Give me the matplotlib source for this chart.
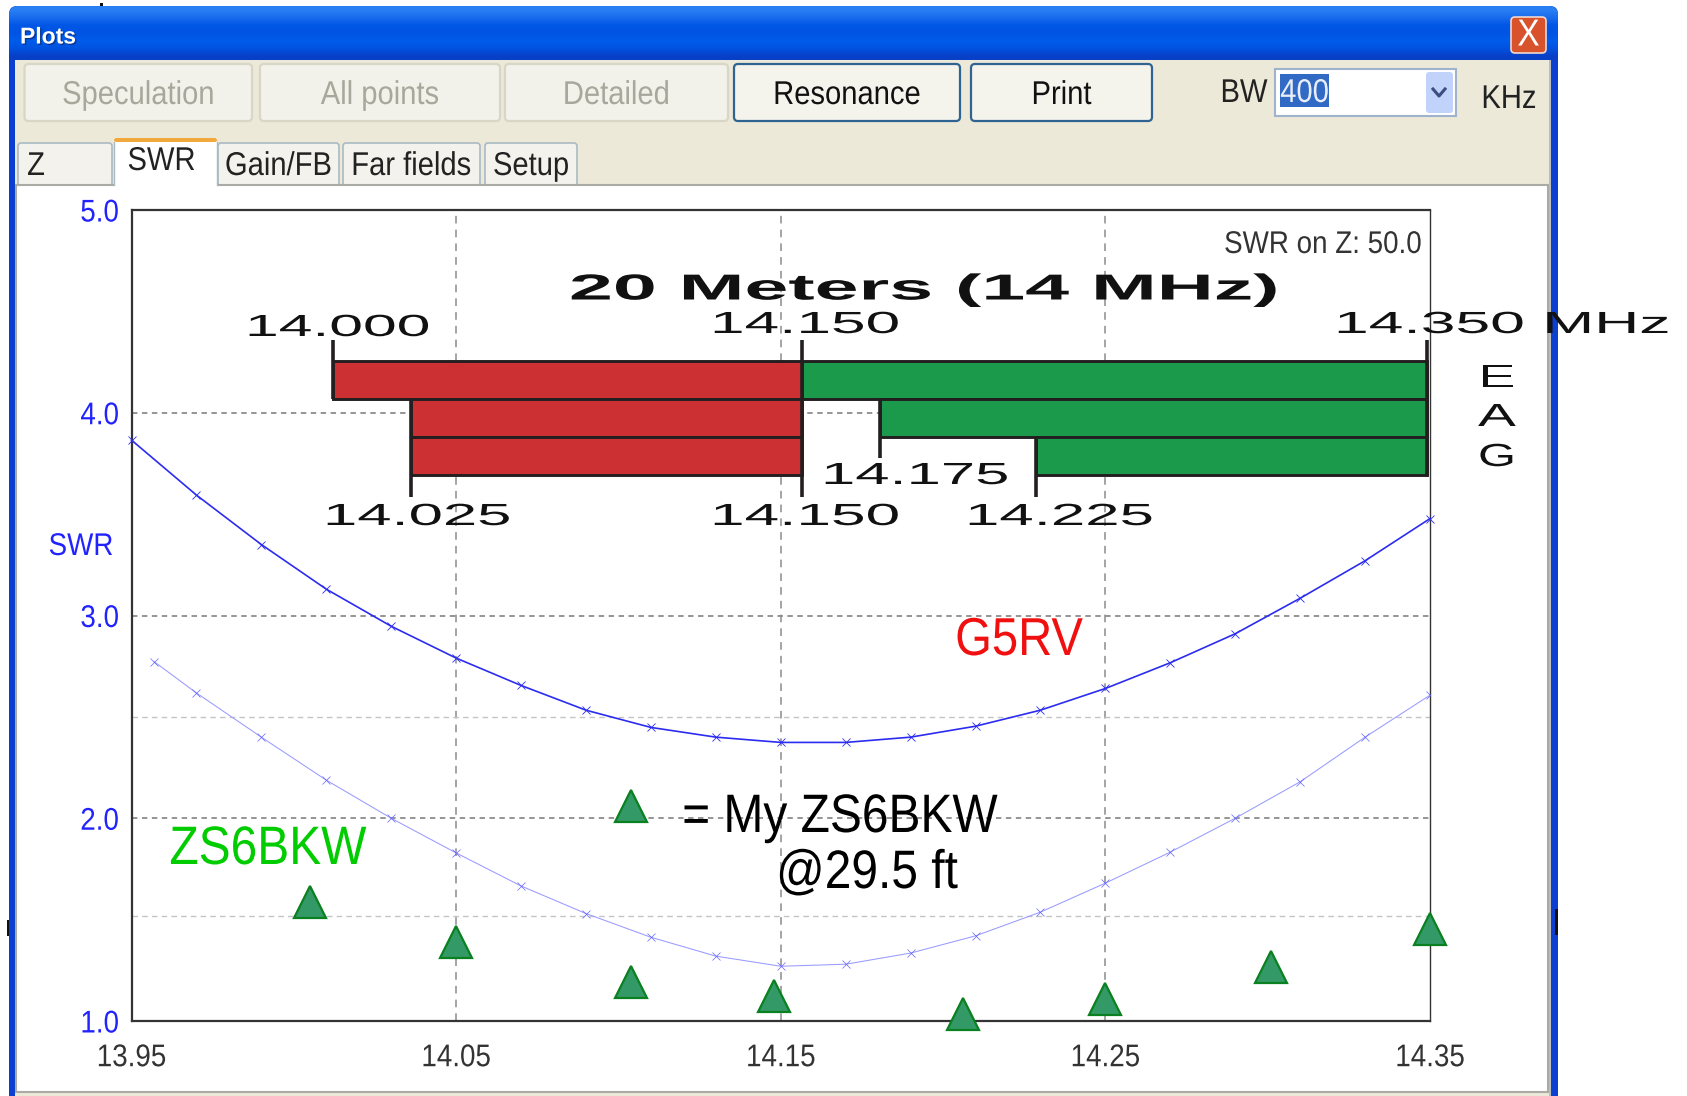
"""SWR plot window: G5RV vs ZS6BKW on the 20 m band, with the band plan on top."""
import matplotlib
matplotlib.use("Agg")
import matplotlib.patheffects as pe
import matplotlib.pyplot as plt
import numpy as np
from matplotlib.patches import FancyBboxPatch, Rectangle
from matplotlib.transforms import Affine2D

W, H = 1687, 1096

# sweep samples, MHz / SWR
freq_g5rv = [13.95, 13.97, 13.99, 14.01, 14.03, 14.05, 14.07, 14.09, 14.11, 14.13, 14.15,
             14.17, 14.19, 14.21, 14.23, 14.25, 14.27, 14.29, 14.31, 14.33, 14.35]
swr_g5rv = [3.865, 3.594, 3.35, 3.13, 2.947, 2.79, 2.655, 2.533, 2.448, 2.40, 2.374,
            2.374, 2.40, 2.454, 2.533, 2.64, 2.767, 2.91, 3.085, 3.27, 3.478]

freq_zs6 = [13.957, 13.97, 13.99, 14.01, 14.03, 14.05, 14.07, 14.09, 14.11, 14.13, 14.15,
            14.17, 14.19, 14.21, 14.23, 14.25, 14.27, 14.29, 14.31, 14.33, 14.35]
swr_zs6 = [2.772, 2.618, 2.40, 2.188, 2.0, 1.829, 1.666, 1.53, 1.413, 1.32, 1.27,
           1.28, 1.335, 1.42, 1.537, 1.68, 1.833, 2.0, 2.18, 2.40, 2.607]

# measured points on my antenna
freq_meas = [14.005, 14.05, 14.104, 14.148, 14.206, 14.25, 14.301, 14.35]
swr_meas = [1.587, 1.39, 1.192, 1.123, 1.034, 1.108, 1.266, 1.454]
key_freq, key_swr = 14.104, 2.06

x_ticks = [13.95, 14.05, 14.15, 14.25, 14.35]
y_ticks = [1.0, 2.0, 3.0, 4.0, 5.0]
y_minor = [1.52, 2.5]

# band plan: licence class, phone start, band start etc
band_rows = ["E", "A", "G"]
cw_start = [14.000, 14.025, 14.025]
cw_end = [14.150, 14.150, 14.150]
phone_start = [14.150, 14.175, 14.225]
phone_end = [14.350, 14.350, 14.350]

tabs = ["Z", "SWR", "Gain/FB", "Far fields", "Setup"]
buttons = ["Speculation", "All points", "Detailed", "Resonance", "Print"]


class StretchX(pe.AbstractPathEffect):
    """Scale a text in x about a display x, the screenshot lettering is not square."""

    def __init__(self, sx, x0):
        super().__init__()
        self.sx, self.x0 = sx, x0

    def draw_path(self, renderer, gc, tpath, affine, rgbFace=None):
        st = Affine2D().translate(-self.x0, 0).scale(self.sx, 1).translate(self.x0, 0)
        renderer.draw_path(gc, tpath, affine + st, rgbFace)


fig = plt.figure(figsize=(W / 100, H / 100), dpi=100, facecolor="white")
plt.rcParams["font.family"] = ["Liberation Sans", "DejaVu Sans"]


def px_axes(zorder):
    ax = fig.add_axes([0, 0, 1, 1], zorder=zorder)
    ax.set_xlim(0, W)
    ax.set_ylim(H, 0)
    ax.axis("off")
    return ax


def box(ax, x0, y0, x1, y1, fc, ec="none", lw=1.0, round_=0, z=1):
    if round_:
        p = FancyBboxPatch((x0, y0), x1 - x0, y1 - y0, boxstyle=f"round,pad=0,rounding_size={round_}",
                           fc=fc, ec=ec, lw=lw, zorder=z)
    else:
        p = Rectangle((x0, y0), x1 - x0, y1 - y0, fc=fc, ec=ec, lw=lw, zorder=z)
    ax.add_patch(p)
    return p


ui = px_axes(0)
top = px_axes(5)

# ── window frame ─────────────────────────────────────────────────────────────
box(ui, 9, 6, 1558, H + 20, "#0A3FD0", round_=8, z=0)
box(ui, 15, 60, 1551, H + 5, "#ECE9D8", z=1)
box(ui, 1549, 60, 1551, H + 5, "#B8BCC0", z=1)
grad = np.array([[0.16, 0.50, 0.95], [0.10, 0.42, 0.93], [0.0, 0.34, 0.90], [0.0, 0.33, 0.89],
                 [0.0, 0.36, 0.92], [0.0, 0.32, 0.88], [0.03, 0.25, 0.78]])[:, None, :]
bar = ui.imshow(grad, extent=(9, 1558, 60, 6), aspect="auto", interpolation="bilinear", zorder=2)
bar.set_clip_path(FancyBboxPatch((9, 6), 1549, 70, boxstyle="round,pad=0,rounding_size=9",
                                 transform=ui.transData))
ui.set_xlim(0, W)
ui.set_ylim(H, 0)
plots_title = ui.text(20, 37, "Plots", color="white", fontsize=16.5, fontweight="bold", va="center", zorder=4,
                      path_effects=[pe.withSimplePatchShadow(offset=(1, -1), shadow_rgbFace="#103080", alpha=0.8)])

box(ui, 1511, 17, 1546, 53, "#D8532C", ec="#F0D8D0", lw=1.2, round_=4, z=3)
ui.text(1528.5, 33, "X", color="white", fontsize=24, ha="center", va="center", zorder=4)

# toolbar
btn_x = [(24.5, 252), (260, 500), (505, 728), (734, 960), (971, 1152)]
for name, (x0, x1) in zip(buttons, btn_x):
    live = name in ("Resonance", "Print")
    box(ui, x0, 64, x1, 121, "#F4F3EC" if live else "#F3F2EA", ec="#2F6391" if live else "#D8D6C6",
        lw=1.6 if live else 1.6, round_=4, z=3)
    ui.text((x0 + x1) / 2, 93, name, color="#111111" if live else "#A9A79B", fontsize=21,
            ha="center", va="center", zorder=4)

ui.text(1244, 91, "BW", color="#222222", fontsize=21, ha="center", va="center", zorder=4)
box(ui, 1275, 69, 1456, 116, "white", ec="#9FB4CC", lw=1.5, z=3)
box(ui, 1280, 74, 1329, 107, "#316AC5", z=4)
ui.text(1304.5, 91, "400", color="#E8EEFA", fontsize=21, ha="center", va="center", zorder=5)
box(ui, 1426, 72, 1453, 113, "#C1D3FB", round_=3, z=4)
ui.plot([1433, 1439, 1445], [89, 96, 89], color="#3A4F80", lw=2.2, zorder=5)
ui.text(1509, 97, "KHz", color="#222222", fontsize=21, ha="center", va="center", zorder=4)

# tabs and the white page
box(ui, 16, 185, 1548, H - 4, "white", ec="#A9ABA4", lw=1.5, z=3)
tab_x = [(18, 112), (114, 217), (218, 339), (343, 480), (485, 577)]
for name, (x0, x1) in zip(tabs, tab_x):
    if name == "SWR":
        box(ui, x0, 138, x1, 187, "white", z=5)
        box(ui, x0, 138, x1, 142, "#F2A93B", round_=2, z=6)
        ui.plot([x0, x0], [142, 185], color="#A9BAC4", lw=1, zorder=6)
        ui.plot([x1, x1], [142, 185], color="#A9BAC4", lw=1, zorder=6)
        ui.text((x0 + x1) / 2 - 4, 159, name, color="#222222", fontsize=21, ha="center", va="center", zorder=7)
    else:
        box(ui, x0, 143, x1, 186, "#F3F2EC", ec="#A9BAC4", lw=1.2, round_=3, z=2)
        tx = 36 if name == "Z" else (x0 + x1) / 2
        ui.text(tx, 164, name, color="#222222", fontsize=21, ha="center", va="center", zorder=4)

# stray dark bits on the frame edge
for x0, y0, x1, y1 in [(7, 920, 9, 936), (1555, 909, 1558, 935), (100, 3, 103, 6)]:
    box(ui, x0, y0, x1, y1, "#111111", z=1)

# ── SWR chart ────────────────────────────────────────────────────────────────
L, R, T, B = 131.5, 1430, 210, 1021
ax = fig.add_axes([L / W, 1 - B / H, (R - L) / W, (B - T) / H], zorder=1)
ax.patch.set_alpha(0)
ax.set_xlim(x_ticks[0], x_ticks[-1])
ax.set_ylim(y_ticks[0], y_ticks[-1])
ax.set_xticks(x_ticks)
ax.set_yticks(y_ticks)
ax.set_xticklabels([f"{v:.2f}" for v in x_ticks], fontsize=20, color="#333333")
ax.set_yticklabels([f"{v:.1f}" for v in y_ticks], fontsize=20, color="#2222FF")
ax.tick_params(length=0)
ax.tick_params(axis="x", pad=16)
ax.tick_params(axis="y", pad=9)
for s in ax.spines.values():
    s.set_color("#333333")
    s.set_linewidth(1.6)
ax.spines["right"].set_linewidth(1.0)

for v in x_ticks[1:-1]:
    ax.axvline(v, color="#8C8C8C", lw=1.1, ls=(0, (5, 4)), zorder=1)
for v in y_ticks[1:-1]:
    ax.axhline(v, color="#8C8C8C", lw=1.3, ls=(0, (3, 2.5)), zorder=1)
for v in y_minor:
    ax.axhline(v, color="#C4C4C4", lw=1.0, ls=(0, (4, 3)), zorder=1)

ax.plot(freq_zs6, swr_zs6, color="#9A9AFF", lw=0.75, marker="x", ms=5.5, mew=0.5, mec="#6666FF", zorder=3)
ax.plot(freq_g5rv, swr_g5rv, color="#2C2CF0", lw=1.2, marker="x", ms=6, mew=0.6, clip_on=False, zorder=3)
tri = dict(marker="^", ms=23, mfc="#339966", mec="#0B8020", mew=1.6, ls="none", clip_on=False, zorder=6)
ax.plot(freq_meas, swr_meas, **tri)
ax.plot([key_freq], [key_swr], **tri)

# ── band plan, on its own frequency scale ────────────────────────────────────
PL, PR, PT, PB = 333, 1427, 361, 475
bp = fig.add_axes([PL / W, 1 - PB / H, (PR - PL) / W, (PB - PT) / H], zorder=3)
bp.patch.set_alpha(0)
bp.axis("off")
bp.set_xlim(cw_start[0], phone_end[0])
bp.set_ylim(len(band_rows), 0)
rows = np.arange(len(band_rows))
edge = dict(height=1, align="edge", edgecolor="#231F20", linewidth=2.1, clip_on=False)
bp.barh(rows, np.subtract(cw_end, cw_start), left=cw_start, color="#CC3033", **edge)
bp.barh(rows, np.subtract(phone_end, phone_start), left=phone_start, color="#1A9A4A", **edge)
# tick stubs run out of the bars to their labels
for f, y0, y1 in [(cw_start[0], -0.55, 1), (cw_end[0], -0.55, 3.58), (cw_start[1], 1, 3.58),
                  (phone_start[1], 1, 2.55), (phone_start[2], 2, 3.58), (phone_end[0], -0.55, 3)]:
    bp.plot([f, f], [y0, y1], color="#231F20", lw=2.6, clip_on=False, solid_capstyle="butt")

fig.canvas.draw()
rend = fig.canvas.get_renderer()

TALL = 1.13
plain = [t for t in ui.texts + top.texts if t is not plots_title]
for t in plain:
    t.set_y(t.get_position()[1] + 2.5)


def wide_text(xc, y, s, width, size, **kw):
    t = top.text(xc, y, s, fontsize=size, ha="center", va="center", color="#111111", zorder=6,
                 family=["Liberation Sans"], **kw)
    ext = t.get_window_extent(rend)
    t.set_path_effects([StretchX(width / ext.width, ext.x0 + ext.width / 2)])
    return t


wide_text(924, 290, "20 Meters (14 MHz)", 710, 26, fontweight="bold")
wide_text(338, 328, "14.000", 186, 22)
wide_text(805, 325, "14.150", 190, 22)
wide_text(1502, 325, "14.350 MHz", 336, 22)
wide_text(417, 517, "14.025", 188, 22)
wide_text(805, 517, "14.150", 190, 22)
wide_text(915, 476, "14.175", 188, 22)
wide_text(1059, 517, "14.225", 188, 22)
for name, y in zip(band_rows, [379, 418, 458]):
    wide_text(1497, y, name, 38, 23)

labels = [
    top.text(1422, 245, "SWR on Z: 50.0", fontsize=20, color="#333333", ha="right", va="center"),
    top.text(81, 547, "SWR", fontsize=20, color="#2222FF", ha="center", va="center"),
    top.text(1019, 641, "G5RV", fontsize=34, color="#F01010", ha="center", va="center"),
    top.text(268, 850, "ZS6BKW", fontsize=34.5, color="#00CC00", ha="center", va="center"),
    top.text(840, 818, "= My ZS6BKW", fontsize=34.5, color="black", ha="center", va="center"),
    top.text(867, 874, "@29.5 ft", fontsize=34.5, color="black", ha="center", va="center"),
]

# screenshot was resized: same widths, taller letters
for t in plain + labels + ax.get_xticklabels() + ax.get_yticklabels():
    t.set_fontsize(t.get_fontsize() * TALL)
    ext = t.get_window_extent(rend)
    ha = t.get_ha()
    anchor = ext.x1 if ha == "right" else ext.x0 if ha == "left" else (ext.x0 + ext.x1) / 2
    t.set_path_effects([StretchX(1 / TALL, anchor)])

fig.savefig("out.png", dpi=100)
